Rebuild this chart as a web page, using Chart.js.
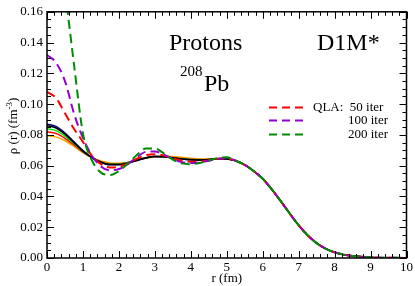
<!DOCTYPE html>
<html>
<head>
<meta charset="utf-8">
<script src="https://cdn.jsdelivr.net/npm/chart.js@4"></script>
<style>
  html, body { margin: 0; padding: 0; background: #fff; }
  #wrap { width: 415px; height: 286px; }
</style>
</head>
<body>
<div id="wrap"><canvas id="densityChart"></canvas></div>
<script>
// radial grid (fm): inner part per series, shared surface tail
const rInner = [0, 0.25, 0.5, 0.75, 1.0, 1.25, 1.5, 1.75, 2.0, 2.25, 2.5, 2.75, 3.0, 3.25, 3.5, 3.75, 4.0, 4.25, 4.5, 4.75, 5.0];
const rTail = [5.25, 5.5, 5.75, 6.0, 6.25, 6.5, 6.75, 7.0, 7.25, 7.5, 7.75, 8.0, 8.25, 8.5, 8.75, 9.0, 9.25, 9.5, 9.75, 10.0];

// QLA iterations (dashed)
const qla50 = [0.108, 0.104, 0.094, 0.084, 0.0755, 0.0665, 0.0610, 0.0588, 0.0593, 0.0615, 0.0645, 0.0668, 0.0675, 0.0666, 0.0648, 0.0632, 0.0626, 0.0627, 0.0635, 0.0645, 0.0646];
const qla100 = [0.132, 0.127, 0.115, 0.094, 0.078, 0.0665, 0.0595, 0.0570, 0.0578, 0.0610, 0.0655, 0.0690, 0.0692, 0.0672, 0.0643, 0.0623, 0.0617, 0.0620, 0.0632, 0.0645, 0.0650];
const qla200 = [0.235, 0.218, 0.174, 0.126, 0.081, 0.0635, 0.0555, 0.0540, 0.0565, 0.0615, 0.0670, 0.0712, 0.0712, 0.0680, 0.0640, 0.0615, 0.0610, 0.0617, 0.0633, 0.0650, 0.0655];

// solid reference curves
const solidBlack = [0.086, 0.0845, 0.0805, 0.0750, 0.0695, 0.0652, 0.0622, 0.0607, 0.0607, 0.0618, 0.0635, 0.0651, 0.0659, 0.0658, 0.0651, 0.0644, 0.0639, 0.0637, 0.0640, 0.0644, 0.0644];
const solidNavy = [0.087, 0.0855, 0.0812, 0.0755, 0.0698, 0.0653, 0.0622, 0.0606, 0.0606, 0.0617, 0.0634, 0.0650, 0.0659, 0.0658, 0.0651, 0.0644, 0.0639, 0.0637, 0.0640, 0.0644, 0.0644];
const solidGreen = [0.084, 0.0828, 0.0792, 0.0743, 0.0692, 0.0652, 0.0624, 0.0610, 0.0610, 0.0620, 0.0636, 0.0651, 0.0659, 0.0658, 0.0652, 0.0645, 0.0640, 0.0638, 0.0640, 0.0644, 0.0644];
const solidRed = [0.082, 0.0810, 0.0778, 0.0735, 0.0688, 0.0652, 0.0626, 0.0613, 0.0612, 0.0621, 0.0636, 0.0651, 0.0659, 0.0659, 0.0653, 0.0646, 0.0641, 0.0639, 0.0640, 0.0644, 0.0644];
const solidOrange = [0.0795, 0.0787, 0.0762, 0.0725, 0.0685, 0.0654, 0.0630, 0.0618, 0.0615, 0.0621, 0.0634, 0.0648, 0.0657, 0.0661, 0.0659, 0.0654, 0.0649, 0.0645, 0.0643, 0.0643, 0.0643];

const tail = [0.0632, 0.0605, 0.0565, 0.0515, 0.0447, 0.0370, 0.0290, 0.0213, 0.0148, 0.0097, 0.0061, 0.0037, 0.0022, 0.0013, 0.0008, 0.0004, 0.0002, 0.0001, 0.0001, 0.0];

const legendLabels = ['QLA:  50 iter', '100 iter', '200 iter'];
const xTickStep = 1;
const yTickStep = 0.02;

const serif = '"Liberation Serif", "Times New Roman", serif';
const rAll = rInner.concat(rTail);

function pts(inner) {
    const ys = inner.concat(tail);
    return rAll.map((r, i) => ({ x: r, y: ys[i] }));
}

function line(vals, color, dashed) {
    return {
        data: pts(vals),
        borderColor: color,
        borderWidth: dashed ? 2 : 1.5,
        borderDash: dashed ? [9, 5] : [],
        pointRadius: 0,
        cubicInterpolationMode: 'monotone',
        fill: false
    };
}

// draws frame, inward ticks on all sides, annotations and the legend
const decorations = {
    id: 'decorations',
    afterDraw(chart) {
        const { ctx, chartArea: a, scales: { x, y } } = chart;
        ctx.save();
        ctx.strokeStyle = '#000';
        ctx.lineWidth = 1;
        ctx.beginPath();
        for (let i = 0; i <= 50; i++) {
            const px = Math.round(x.getPixelForValue(i * 0.2)) + 0.5;
            const len = i % 5 === 0 ? 7 : 4;
            ctx.moveTo(px, a.bottom); ctx.lineTo(px, a.bottom - len);
            ctx.moveTo(px, a.top); ctx.lineTo(px, a.top + len);
        }
        for (let i = 0; i <= 32; i++) {
            const py = Math.round(y.getPixelForValue(i * 0.005)) + 0.5;
            const len = i % 4 === 0 ? 7 : 4;
            ctx.moveTo(a.left, py); ctx.lineTo(a.left + len, py);
            ctx.moveTo(a.right, py); ctx.lineTo(a.right - len, py);
        }
        ctx.stroke();
        ctx.lineWidth = 1.5;
        ctx.strokeRect(a.left, a.top, a.right - a.left, a.bottom - a.top);

        // labels inside the plot
        ctx.fillStyle = '#000';
        ctx.textBaseline = 'alphabetic';
        ctx.textAlign = 'left';
        ctx.font = '24px ' + serif;
        ctx.fillText('Protons', 169, 50);
        ctx.fillText('D1M*', 317, 50);
        ctx.fillText('Pb', 204, 91);
        ctx.font = '15px ' + serif;
        ctx.fillText('208', 180, 76);

        // legend
        const colors = ['#ff0000', '#9400d3', '#008b00'];
        const rows = [107, 120, 134];
        ctx.lineWidth = 2;
        ctx.setLineDash([8, 5]);
        rows.forEach((ry, i) => {
            ctx.strokeStyle = colors[i];
            ctx.beginPath();
            ctx.moveTo(269, ry + 0.5);
            ctx.lineTo(306, ry + 0.5);
            ctx.stroke();
        });
        ctx.setLineDash([]);
        ctx.font = '13px ' + serif;
        ctx.fillText(legendLabels[0], 313, 111);
        ctx.fillText(legendLabels[1], 348, 124);
        ctx.fillText(legendLabels[2], 348, 138);

        // y axis title with superscript
        ctx.translate(17, (a.top + a.bottom) / 2 - 9);
        ctx.rotate(-Math.PI / 2);
        const main = '\u03C1 (r) (fm';
        ctx.font = '13px ' + serif;
        const w1 = ctx.measureText(main).width;
        ctx.font = '9px ' + serif;
        const w2 = ctx.measureText('-3').width;
        ctx.font = '13px ' + serif;
        const w3 = ctx.measureText(')').width;
        let tx = -(w1 + w2 + w3) / 2;
        ctx.fillText(main, tx, 0);
        tx += w1;
        ctx.font = '9px ' + serif;
        ctx.fillText('-3', tx, -5);
        tx += w2;
        ctx.font = '13px ' + serif;
        ctx.fillText(')', tx, 0);
        ctx.restore();
    }
};

document.addEventListener('DOMContentLoaded', function() {
    const ctx = document.getElementById('densityChart').getContext('2d');
    new Chart(ctx, {
        type: 'line',
        data: {
            datasets: [
                line(qla200, '#008b00', true),
                line(qla100, '#9400d3', true),
                line(qla50, '#ff0000', true),
                line(solidBlack, '#000000', false),
                line(solidNavy, '#000080', false),
                line(solidGreen, '#00e000', false),
                line(solidRed, '#ff0000', false),
                line(solidOrange, '#ffa500', false)
            ]
        },
        options: {
            responsive: true,
            maintainAspectRatio: false,
            animation: false,
            layout: { padding: { top: 5, right: 8, left: 0, bottom: 0 } },
            plugins: {
                legend: { display: false },
                tooltip: { enabled: false }
            },
            scales: {
                x: {
                    type: 'linear',
                    min: 0,
                    max: 10,
                    grid: { display: false, drawTicks: false },
                    border: { display: false },
                    ticks: {
                        stepSize: xTickStep,
                        color: '#000',
                        font: { family: serif, size: 13 },
                        padding: 2,
                        maxRotation: 0
                    },
                    title: {
                        display: true,
                        text: 'r (fm)',
                        color: '#000',
                        font: { family: serif, size: 13 },
                        padding: { top: 0, bottom: 0 }
                    },
                    afterFit: function(scale) { scale.height = 28; }
                },
                y: {
                    min: 0,
                    max: 0.16,
                    grid: { display: false, drawTicks: false },
                    border: { display: false },
                    ticks: {
                        stepSize: yTickStep,
                        color: '#000',
                        font: { family: serif, size: 13 },
                        padding: 4,
                        callback: function(v) { return v.toFixed(2); }
                    },
                    afterFit: function(scale) { scale.width = 47; }
                }
            }
        },
        plugins: [decorations]
    });
});
</script>
</body>
</html>
